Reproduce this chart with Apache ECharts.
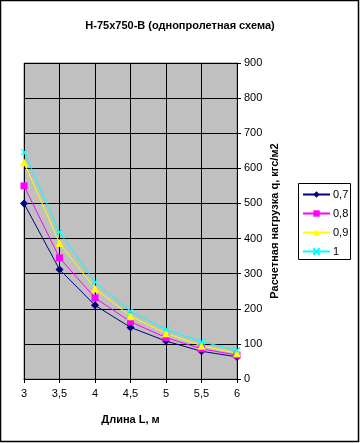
<!DOCTYPE html>
<html><head><meta charset="utf-8">
<script src="https://cdn.jsdelivr.net/npm/echarts@6/dist/echarts.min.js"></script>
<style>html,body{margin:0;padding:0;background:#fff}#c{width:360px;height:443px}</style>
</head><body><div id="c"></div>
<script>
var lengths = [3, 3.5, 4, 4.5, 5, 5.5, 6];
var seriesNames = ['0,7', '0,8', '0,9', '1'];
var s07 = [500, 312, 210, 147, 108, 79, 63];
var s08 = [550, 345, 231, 163, 118, 86, 68];
var s09 = [617, 387, 258, 179, 130, 95, 73];
var s10 = [646, 418, 276, 193, 141, 106, 82];
var yTicks = [0, 100, 200, 300, 400, 500, 600, 700, 800, 900];

function pairs(vals){ return lengths.map(function(x,i){ return [x, vals[i]]; }); }
var F = 'Liberation Sans, Arial, sans-serif';
var xSym = 'path://M0,0L10,10M10,0L0,10';
var cfg = [
  {name: seriesNames[0], data: s07, color: '#000080', symbol: 'diamond', size: 8},
  {name: seriesNames[1], data: s08, color: '#FF00FF', symbol: 'rect', size: 7},
  {name: seriesNames[2], data: s09, color: '#FFFF00', symbol: 'triangle', size: 8},
  {name: seriesNames[3], data: s10, color: '#00FFFF', symbol: xSym, size: 6}
];
var chart = echarts.init(document.getElementById('c'), null, {renderer: 'canvas'});
chart.setOption({
  animation: false,
  backgroundColor: '#fff',
  title: {text: 'Н-75х750-В (однопролетная схема)', left: 'center', top: 15,
    textStyle: {fontFamily: F, fontSize: 11, fontWeight: 'bold', color: '#000'}},
  grid: {left: 24, right: 123, top: 63, bottom: 64, show: true,
    backgroundColor: '#C0C0C0', borderColor: '#808080', borderWidth: 1},
  legend: {orient: 'vertical', left: 302, top: 188, padding: 0,
    itemWidth: 27, itemHeight: 8, itemGap: 6,
    textStyle: {fontFamily: F, fontSize: 11, color: '#000', lineHeight: 13, padding: [0,0,0,-2]},
    data: seriesNames},
  xAxis: {type: 'value', min: 3, max: 6, interval: 0.5,
    name: 'Длина L, м', nameLocation: 'middle', nameGap: 35,
    nameTextStyle: {fontFamily: F, fontSize: 11, fontWeight: 'bold', color: '#000'},
    axisLine: {show: true, lineStyle: {color: '#000', width: 1}},
    axisTick: {show: true, length: 4, lineStyle: {color: '#000'}},
    axisLabel: {fontFamily: F, fontSize: 11, color: '#000', margin: 9,
      formatter: function(v){ return String(v).replace('.', ','); }},
    splitLine: {show: true, lineStyle: {color: '#000', width: 1}}},
  yAxis: {type: 'value', position: 'right', min: 0, max: 900, interval: 100,
    name: 'Расчетная нагрузка q, кгс/м2', nameLocation: 'middle', nameGap: 32, nameRotate: 90,
    nameMoveOverlap: false,
    nameTextStyle: {fontFamily: F, fontSize: 11, fontWeight: 'bold', color: '#000'},
    axisLine: {show: true, lineStyle: {color: '#000', width: 1}},
    axisTick: {show: true, length: 4, lineStyle: {color: '#000'}},
    axisLabel: {fontFamily: F, fontSize: 11, color: '#000', margin: 7,
      formatter: function(v){ return yTicks.indexOf(v) >= 0 ? String(v) : ''; }},
    splitLine: {show: true, lineStyle: {color: '#000', width: 1}}},
  series: cfg.map(function(c){
    return {name: c.name, type: 'line', data: pairs(c.data), symbol: c.symbol, symbolSize: c.size,
      showAllSymbol: true,
      lineStyle: {color: c.color, width: 1},
      itemStyle: {color: c.symbol === xSym ? 'rgba(0,0,0,0)' : c.color, borderColor: c.color, borderWidth: c.symbol === xSym ? 1.2 : 0}};
  }),
  graphic: [
    {type: 'rect', shape: {x: 298.5, y: 183.5, width: 52, height: 76}, style: {fill: 'none', stroke: '#000', lineWidth: 1}, silent: true},
    {type: 'rect', shape: {x: 0.5, y: 0.5, width: 358, height: 441}, style: {fill: 'none', stroke: '#000', lineWidth: 1.5}, silent: true}]
});
</script></body></html>
